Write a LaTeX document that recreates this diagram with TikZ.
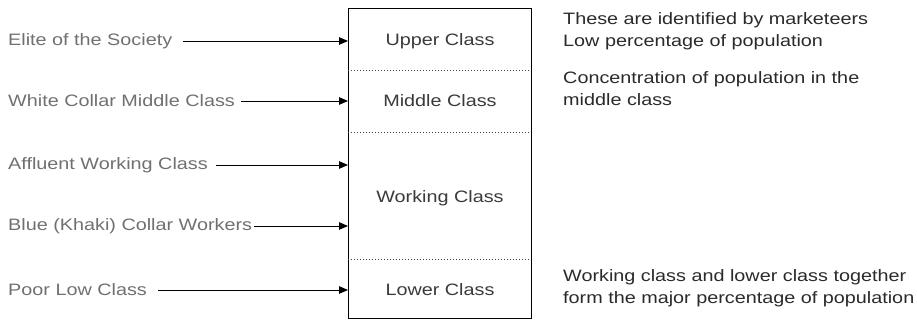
\documentclass[tikz,border=0pt]{standalone}
\usepackage{fontspec}
\setmainfont{Liberation Sans}[FakeStretch=1.2]
\usetikzlibrary{arrows.meta,calc}
\definecolor{lblgray}{HTML}{707070}
\definecolor{boxtext}{HTML}{3A3A3A}
\definecolor{notetext}{HTML}{2A2A2A}
\tikzset{
  srclabel/.style={anchor=west,inner sep=0pt,text=lblgray,font=\fontsize{16.5}{20}\selectfont},
  classlabel/.style={inner sep=0pt,text=boxtext,font=\fontsize{16.5}{20}\selectfont},
  notelabel/.style={anchor=west,inner sep=0pt,align=left,text=notetext,font=\fontsize{16.5}{22}\selectfont},
  feed/.style={line width=0.9pt,-{Triangle[length=9pt,width=7.5pt]}},
  divider/.style={line width=1pt,dotted,draw=black!75},
  classbox/.style={draw,line width=1pt,minimum width=183pt,minimum height=310pt,inner sep=0pt}
}
\begin{document}
\begin{tikzpicture}[x=1pt,y=-1pt]
\useasboundingbox (0,0) rectangle (917,320);
% main box
\node[classbox,anchor=north west] (box) at (348,8) {};
% dividers
\coordinate (d1l) at (348,71);  \coordinate (d1r) at (531,71);
\coordinate (d2l) at (348,133); \coordinate (d2r) at (531,133);
\coordinate (d3l) at (348,259); \coordinate (d3r) at (531,259);
\draw[divider] (d1l) -- (d1r);
\draw[divider] (d2l) -- (d2r);
\draw[divider] (d3l) -- (d3r);
% class labels
\node[classlabel] (upper) at (440,41) {Upper Class};
\node[classlabel] (middle) at (440,101) {Middle Class};
\node[classlabel] (working) at (440,198) {Working Class};
\node[classlabel] (lower) at (440,290) {Lower Class};
% source labels
\node[srclabel] (elite) at (8,41) {Elite of the Society};
\node[srclabel] (white) at (8,101) {White Collar Middle Class};
\node[srclabel] (affluent) at (8,165) {Affluent Working Class};
\node[srclabel] (blue) at (8,226) {Blue (Khaki) Collar Workers};
\node[srclabel] (poor) at (8,290) {Poor Low Class};
% arrows
\draw[feed] ([xshift=11pt]elite.east) -- (elite.east -| box.west);
\draw[feed] ([xshift=6pt]white.east) -- (white.east -| box.west);
\draw[feed] ([xshift=8pt]affluent.east) -- (affluent.east -| box.west);
\draw[feed] ([xshift=2pt]blue.east) -- (blue.east -| box.west);
\draw[feed] ([xshift=11pt]poor.east) -- (poor.east -| box.west);
% notes
\node[notelabel] (note1) at (563,31) {These are identified by marketeers\\Low percentage of population};
\node[notelabel] (note2) at (563,89) {Concentration of population in the\\middle class};
\node[notelabel] (note3) at (563,288) {Working class and lower class together\\form the major percentage of population};
\end{tikzpicture}
\end{document}
